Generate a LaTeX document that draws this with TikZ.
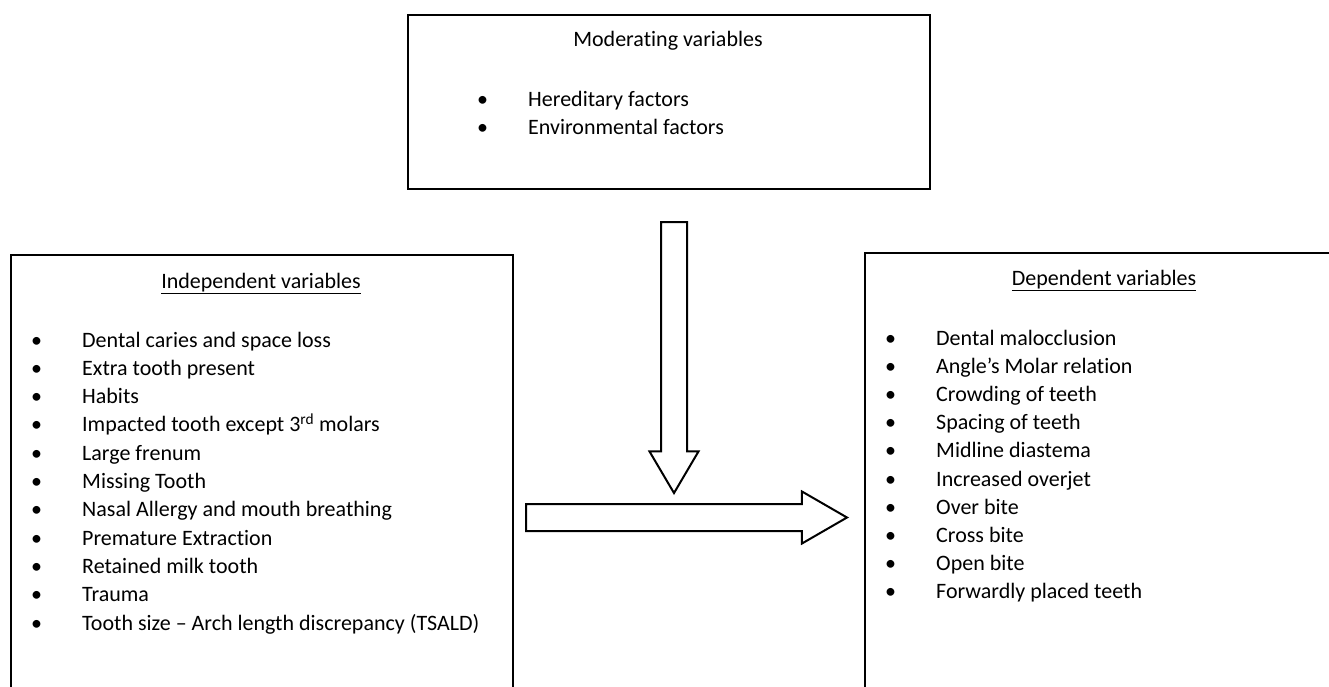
\documentclass[tikz,border=0pt]{standalone}
\usepackage{fontspec}
\setmainfont{Carlito}[Ligatures={TeX,NoCommon}]
\usetikzlibrary{shapes.arrows,positioning}
\newcommand{\bul}{\makebox[51pt][l]{\textbullet}}

\begin{document}
\begin{tikzpicture}[x=1pt,y=-1pt,
 every node/.style={font=\fontsize{22}{27}\selectfont,inner sep=0pt},
 box/.style={draw,line width=2pt,anchor=north west},
 item/.style={anchor=base west},
 title/.style={anchor=base},
 blockarrow/.style={draw,line width=2pt,single arrow,minimum width=0pt,inner xsep=0pt,
   inner ysep=12pt,single arrow head extend=11.5pt,single arrow tip angle=61}]
\useasboundingbox (0,0) rectangle (1329,687);
\node[box,minimum width=522pt,minimum height=174pt] (moder) at (407,14) {};
\node[box,minimum width=502pt,minimum height=480pt] (indep) at (10,254) {};
\node[box,minimum width=480pt,minimum height=480pt] (depend) at (864,252) {};
\node[title] (moder-t) at (668,47) {Moderating variables};
\node[title] (indep-t) at (261,288) {\underline{Independent variables}};
\node[title] (depend-t) at (1104,285) {\underline{Dependent variables}};
\foreach \txt [count=\i] in {Hereditary factors,Environmental factors}
  \node[item] (mod-\i) at (477,{107+28*(\i-1)}) {\bul\txt};
\foreach \txt [count=\i] in {Dental caries and space loss,Extra tooth present,Habits,
  {Impacted tooth except 3\textsuperscript{rd} molars},Large frenum,Missing Tooth,
  Nasal Allergy and mouth breathing,Premature Extraction,Retained milk tooth,Trauma,
  Tooth size -- Arch length discrepancy (TSALD)}
  \node[item] (ind-\i) at (31,{347+28.3*(\i-1)}) {\bul\txt};
\foreach \txt [count=\i] in {Dental malocclusion,Angle's Molar relation,Crowding of teeth,
  Spacing of teeth,Midline diastema,Increased overjet,Over bite,Cross bite,Open bite,
  Forwardly placed teeth}
  \node[item] (dep-\i) at (885,{345+28.2*(\i-1)}) {\bul\txt};
\node[blockarrow,rotate=-90,minimum height=271pt,anchor=tip] (downarr) at (674,495) {};
\node[blockarrow,inner ysep=12.5pt,single arrow head extend=12.5pt,single arrow tip angle=60,
  minimum height=321pt,anchor=tip] (rightarr) at (849,517.5) {};
\end{tikzpicture}
\end{document}
